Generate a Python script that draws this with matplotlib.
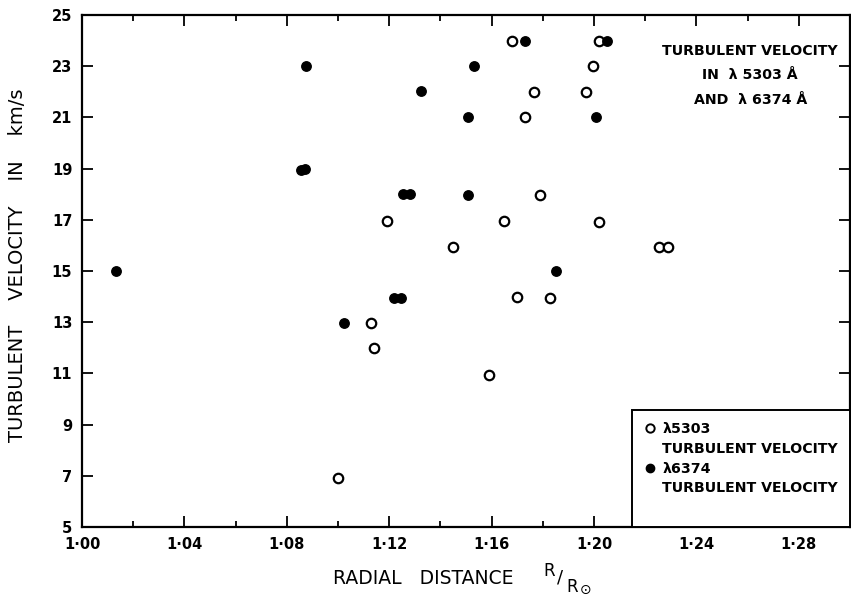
import numpy as np
import matplotlib
matplotlib.use("Agg")
import matplotlib.pyplot as plt
from matplotlib.lines import Line2D
from matplotlib.ticker import MultipleLocator, FuncFormatter


# lambda 5303 (open circles)
r_5303 = [1.100, 1.113, 1.114, 1.119, 1.145, 1.159, 1.165, 1.168, 1.170, 1.173,
          1.1765, 1.179, 1.183, 1.197, 1.1995, 1.202, 1.202, 1.2255, 1.229]
v_5303 = [6.9, 12.95, 12.0, 16.95, 15.95, 10.95, 16.95, 24.0, 14.0, 21.0,
          22.0, 17.95, 13.95, 22.0, 23.0, 24.0, 16.9, 15.95, 15.95]

# lambda 6374 (filled circles)
r_6374 = [1.0133, 1.0855, 1.087, 1.0875, 1.1024, 1.122, 1.1247, 1.1255, 1.128, 1.1325,
          1.1506, 1.1506, 1.1533, 1.173, 1.185, 1.2008, 1.205]
v_6374 = [15.0, 18.95, 19.0, 23.0, 12.95, 13.95, 13.95, 18.0, 18.0, 22.05,
          21.0, 17.95, 23.0, 24.0, 15.0, 21.0, 24.0]

X_TICKS = [1.00, 1.04, 1.08, 1.12, 1.16, 1.20, 1.24, 1.28]
Y_TICKS = [5, 7, 9, 11, 13, 15, 17, 19, 21, 23, 25]

plt.rcParams['font.family'] = ['DejaVu Sans']

fig = plt.figure(figsize=(8.51, 6.00), dpi=100)
ax = fig.add_axes([82 / 851, 73 / 600, 768 / 851, 512 / 600])

ax.plot(r_5303, v_5303, 'o', markersize=6.8, markerfacecolor='white',
        markeredgecolor='black', markeredgewidth=1.6, linestyle='none')
ax.plot(r_6374, v_6374, 'o', markersize=6.8, markerfacecolor='black',
        markeredgecolor='black', markeredgewidth=1.0, linestyle='none')

ax.set_xlim(1.00, 1.30)
ax.set_ylim(5, 25)
ax.set_xticks(X_TICKS)
ax.set_yticks(Y_TICKS)
ax.xaxis.set_minor_locator(MultipleLocator(0.02))
ax.xaxis.set_major_formatter(FuncFormatter(lambda v, p: f"{v:.2f}".replace('.', '·')))

ax.tick_params(which='both', direction='in', top=True, right=True, width=1.3)
ax.tick_params(which='major', length=8, labelsize=10.5, pad=7)
ax.tick_params(which='minor', length=4)
for lbl in ax.get_xticklabels() + ax.get_yticklabels():
    lbl.set_fontweight('bold')
for side in ax.spines.values():
    side.set_linewidth(1.6)

# y label
fig.text(18 / 851, 1 - 265 / 600, "TURBULENT    VELOCITY    IN    km/s", rotation=90,
         ha='center', va='center', fontsize=14)

# x label: RADIAL DISTANCE R/R_sun
fig.text(423 / 851, 1 - 578 / 600, "RADIAL   DISTANCE", ha='center', va='center', fontsize=13.5)
fig.text(549 / 851, 1 - 571 / 600, "R", ha='center', va='center', fontsize=12)
fig.text(560 / 851, 1 - 578 / 600, "/", ha='center', va='center', fontsize=13)
fig.text(572 / 851, 1 - 587 / 600, "R", ha='center', va='center', fontsize=12)
fig.text(586 / 851, 1 - 590 / 600, "⊙", ha='center', va='center', fontsize=10)

ax.text(0.870, 0.882, "TURBULENT VELOCITY\nIN  λ 5303 Å\nAND  λ 6374 Å",
        transform=ax.transAxes, ha='center', va='center', fontsize=10.2,
        linespacing=1.95, fontweight='bold')

handles = [
    Line2D([], [], marker='o', linestyle='none', markersize=6, markerfacecolor='white',
           markeredgecolor='black', markeredgewidth=1.4),
    Line2D([], [], linestyle='none'),
    Line2D([], [], marker='o', linestyle='none', markersize=6, markerfacecolor='black',
           markeredgecolor='black'),
    Line2D([], [], linestyle='none'),
    Line2D([], [], linestyle='none'),
]
labels = ["λ5303", "TURBULENT VELOCITY", "λ6374", "TURBULENT VELOCITY", " "]
leg = ax.legend(handles, labels, loc='lower right', bbox_to_anchor=(1.0, 0.0),
                borderaxespad=0, handlelength=0.8, handletextpad=0.5,
                labelspacing=0.4, borderpad=0.85, fancybox=False, framealpha=1,
                prop={'size': 10.2, 'weight': 'bold'})
leg.get_frame().set_edgecolor('black')
leg.get_frame().set_linewidth(1.4)

fig.savefig("out.png", dpi=100)
